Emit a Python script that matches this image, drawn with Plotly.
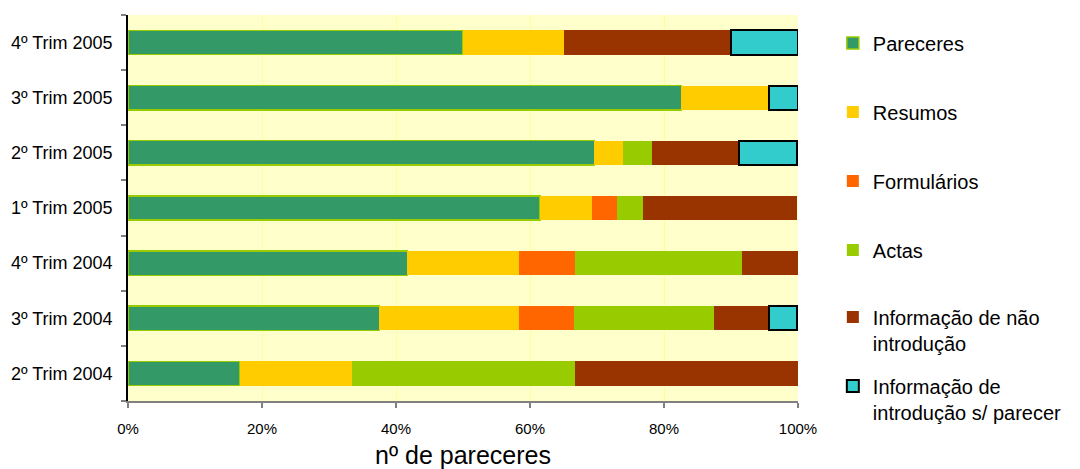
import plotly.graph_objects as go

categories = ["2º Trim 2004", "3º Trim 2004", "4º Trim 2004", "1º Trim 2005",
              "2º Trim 2005", "3º Trim 2005", "4º Trim 2005"]

pareceres   = [16.7, 37.5, 41.7, 61.5, 69.6, 82.6, 50.0]
resumos     = [16.7, 20.8, 16.7,  7.7,  4.3, 13.0, 15.0]
formularios = [ 0.0,  8.3,  8.3,  3.8,  0.0,  0.0,  0.0]
actas       = [33.3, 20.8, 25.0,  3.8,  4.3,  0.0,  0.0]
info_nao    = [33.3,  8.3,  8.3, 23.1, 13.0,  0.0, 25.0]
info_sem    = [ 0.0,  4.2,  0.0,  0.0,  8.7,  4.4, 10.0]

series_names = ["Pareceres", "Resumos", "Formulários", "Actas",
                "Informação de não<br>introdução",
                "Informação de<br>introdução s/ parecer"]
series_values = [pareceres, resumos, formularios, actas, info_nao, info_sem]
fill_colors = ["#339966", "#FFCC00", "#FF6600", "#99CC00", "#993300", "#33CCCC"]
line_colors = ["#99CC00", "#FFCC00", "#FF6600", "#99CC00", "#993300", "#000000"]
line_widths = [1.5, 0, 0, 0, 0, 2]
legend_y = [0.9275, 0.7487, 0.5699, 0.3912, 0.1839, 0.0052]

FONT = '"Liberation Sans", Arial, sans-serif'

fig = go.Figure()
for i, (name, vals) in enumerate(zip(series_names, series_values)):
    lg = "legend" if i == 0 else f"legend{i + 1}"
    fig.add_trace(go.Bar(
        y=categories, x=[v if v else None for v in vals], name=name,
        orientation="h",
        marker=dict(color=fill_colors[i],
                    line=dict(color=line_colors[i], width=line_widths[i])),
        width=0.44, legend=lg,
    ))

legends = {}
for i, ly in enumerate(legend_y):
    key = "legend" if i == 0 else f"legend{i + 1}"
    legends[key] = dict(
        x=1.052, y=ly, xanchor="left", yanchor="middle", valign="top",
        font=dict(size=20, family=FONT, color="black"),
        bgcolor="rgba(0,0,0,0)", borderwidth=0,
    )

fig.update_layout(
    barmode="stack",
    width=1080, height=469,
    margin=dict(l=128, r=282, t=15, b=68, autoexpand=False),
    paper_bgcolor="white",
    plot_bgcolor="#FFFFCC",
    font=dict(family=FONT, color="black", size=16),
    showlegend=True,
    xaxis=dict(
        range=[0, 100], tickvals=[0, 20, 40, 60, 80, 100],
        ticktext=["0%", "20%", "40%", "60%", "80%", "100%"],
        showgrid=True, gridcolor="#FFFF99", gridwidth=1,
        showline=True, linecolor="#808080", linewidth=2,
        ticks="outside", ticklen=5, tickcolor="#808080", tickwidth=1.5,
        tickfont=dict(size=15), ticklabelstandoff=8,
        title=dict(text="nº de pareceres", font=dict(size=25), standoff=12),
        zeroline=False, fixedrange=True, automargin=False,
    ),
    yaxis=dict(
        type="category", tickson="boundaries",
        showline=True, linecolor="black", linewidth=1.5,
        ticks="outside", ticklen=5, tickcolor="#808080", tickwidth=1.5,
        showgrid=False, tickfont=dict(size=18),
        ticklabelstandoff=10, fixedrange=True, automargin=False,
    ),
    **legends,
)

fig.write_html("out.html", config={"displayModeBar": False},
               post_script="document.body.style.margin='0';")
